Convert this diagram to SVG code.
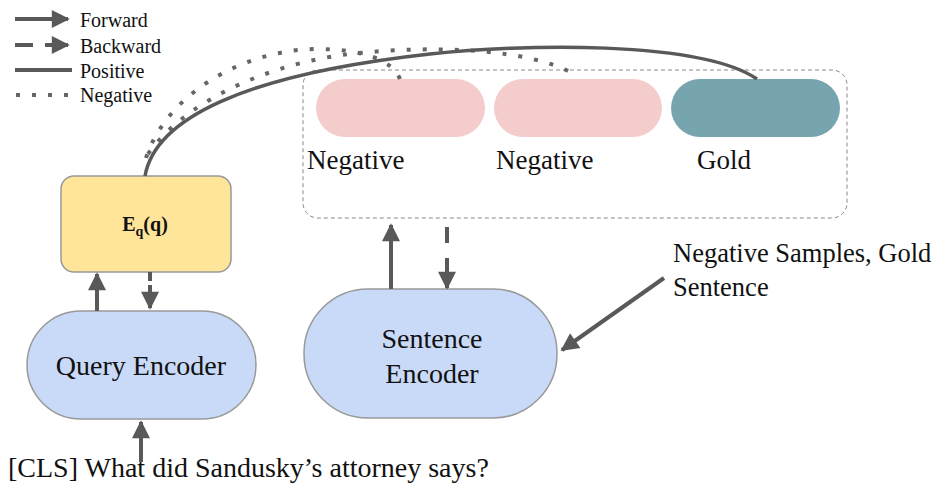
<svg xmlns="http://www.w3.org/2000/svg" width="952" height="484" viewBox="0 0 952 484">
<defs>
<marker id="ah" viewBox="0 0 10 10" refX="9" refY="5" markerWidth="5.5" markerHeight="4.5" markerUnits="strokeWidth" orient="auto">
<path d="M0,0 L10,5 L0,10 z" fill="#595959"/>
</marker>
<style>
.t{font-family:"Liberation Serif","Times New Roman",serif;fill:#111}
.lg{font-size:20px}
.big{font-size:28px}
.mid{font-size:27px}
.arr{stroke:#595959;stroke-width:4;fill:none}
.node{stroke:#999;stroke-width:1.5}
.cur{stroke:#595959;stroke-width:3.5;fill:none}
.dot{stroke:#666;stroke-width:4;fill:none;stroke-dasharray:4 12}
</style>
</defs>
<rect width="952" height="484" fill="#fff"/>
<g id="legend">
<line x1="15" y1="19" x2="68" y2="19" class="arr" marker-end="url(#ah)"/>
<text x="80" y="27" class="t lg">Forward</text>
<line x1="15" y1="45" x2="33" y2="45" class="arr"/>
<line x1="45" y1="45" x2="68" y2="45" class="arr" marker-end="url(#ah)"/>
<text x="80" y="53" class="t lg">Backward</text>
<line x1="15" y1="70" x2="72" y2="70" class="arr"/>
<text x="80" y="78" class="t lg">Positive</text>
<line x1="16" y1="95" x2="72" y2="95" class="dot"/>
<text x="80" y="102" class="t lg">Negative</text>
</g>
<g id="samples">
<rect x="303" y="70" width="544" height="148" rx="15" fill="none" stroke="#888" stroke-width="1" stroke-dasharray="4 3"/>
</g>
<g id="neg1">
<rect x="316" y="79" width="169" height="58" rx="29" fill="#f4cccc"/>
<text x="307" y="169" class="t mid">Negative</text>
</g>
<g id="neg2">
<rect x="494" y="79" width="168" height="58" rx="29" fill="#f4cccc"/>
<text x="496" y="169" class="t mid">Negative</text>
</g>
<g id="gold">
<rect x="671" y="79" width="169" height="58" rx="29" fill="#76a5af"/>
<text x="697" y="169" class="t mid">Gold</text>
</g>
<g id="eq">
<rect x="61" y="176" width="170" height="96" rx="13" fill="#ffe599" class="node"/>
<text x="145" y="231" text-anchor="middle" class="t" font-size="20" font-weight="bold">E<tspan font-size="14" dy="5">q</tspan><tspan dy="-5">(q)</tspan></text>
</g>
<g id="query">
<rect x="27" y="311" width="229" height="108" rx="54" fill="#c9daf8" class="node"/>
<text x="141" y="375" text-anchor="middle" class="t big">Query Encoder</text>
</g>
<g id="sentence">
<rect x="304" y="289" width="253" height="129" rx="64" fill="#c9daf8" class="node"/>
<text x="432" y="348" text-anchor="middle" class="t big">Sentence</text>
<text x="432" y="383" text-anchor="middle" class="t big">Encoder</text>
</g>
<g id="inputs">
<text x="673" y="262" class="t" font-size="26.5">Negative Samples, Gold</text>
<text x="673" y="296" class="t" font-size="26.5">Sentence</text>
<text x="8" y="477" class="t big">[CLS] What did Sandusky’s attorney says?</text>
</g>
<g id="connectors">
<path d="M146,158 C168,90 250,48 320,49 C365,50 392,60 400,79" class="dot"/>
<path d="M148,154 C190,95 280,62 350,54 C440,44 530,50 572,73" class="dot"/>
<path d="M145,176 C155,120 240,75 430,54 C520,44 700,40 757,79" class="cur"/>
<line x1="97" y1="311" x2="97" y2="274" class="arr" marker-end="url(#ah)"/>
<line x1="150" y1="272" x2="150" y2="281" class="arr"/>
<line x1="150" y1="285" x2="150" y2="308" class="arr" marker-end="url(#ah)"/>
<line x1="391" y1="289" x2="391" y2="225" class="arr" marker-end="url(#ah)"/>
<line x1="447" y1="227" x2="447" y2="243" class="arr"/>
<line x1="447" y1="258" x2="447" y2="288" class="arr" marker-end="url(#ah)"/>
<line x1="664" y1="278" x2="562" y2="350" class="arr" marker-end="url(#ah)"/>
<line x1="141" y1="462" x2="141" y2="422" class="arr" marker-end="url(#ah)"/>
</g>
</svg>
